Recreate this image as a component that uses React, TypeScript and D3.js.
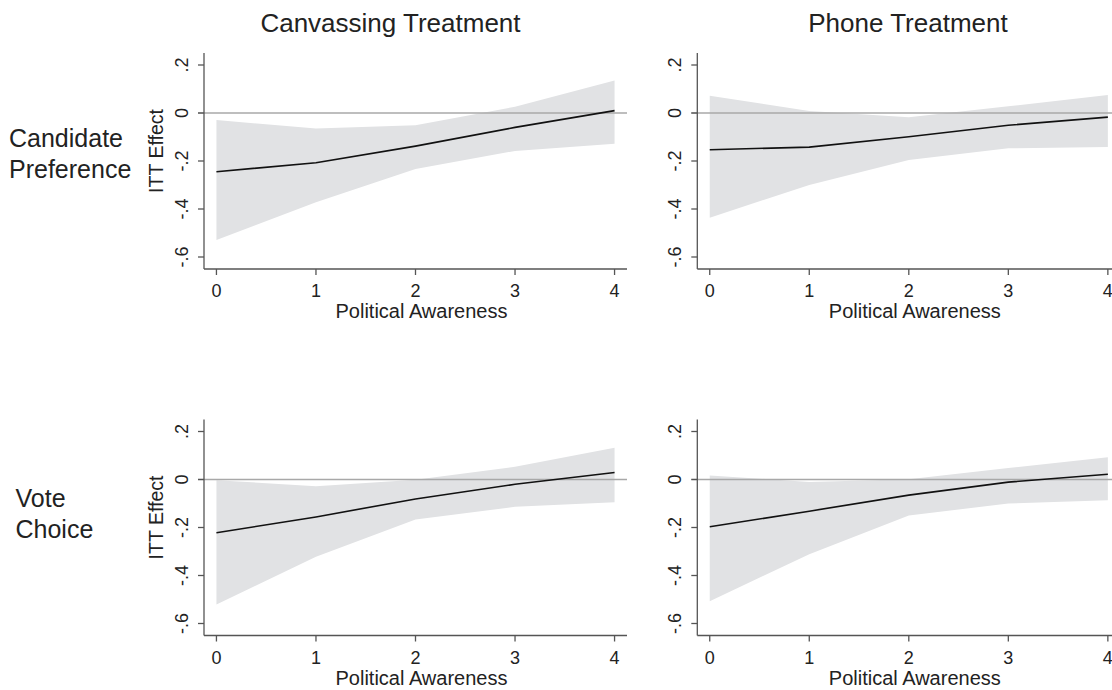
import React, { useEffect, useRef } from 'react';
import * as d3 from 'd3';

// political awareness levels on the x axis
const awareness = [0, 1, 2, 3, 4];

const columnTitles = ['Canvassing Treatment', 'Phone Treatment'];
const rowTitles = [['Candidate', 'Preference'], ['Vote', 'Choice']];

const yTicks = [0.2, 0, -0.2, -0.4, -0.6];
const yTickLabels = ['.2', '0', '-.2', '-.4', '-.6'];

// ITT estimates and 95% band
const canvassPrefEst = [-0.245, -0.207, -0.138, -0.06, 0.01];
const canvassPrefLo = [-0.529, -0.372, -0.233, -0.158, -0.128];
const canvassPrefHi = [-0.029, -0.065, -0.051, 0.026, 0.135];

const phonePrefEst = [-0.153, -0.142, -0.099, -0.051, -0.017];
const phonePrefLo = [-0.436, -0.3, -0.196, -0.147, -0.142];
const phonePrefHi = [0.072, 0.008, -0.018, 0.028, 0.075];

const canvassVoteEst = [-0.222, -0.156, -0.081, -0.02, 0.029];
const canvassVoteLo = [-0.521, -0.322, -0.167, -0.114, -0.095];
const canvassVoteHi = [-0.003, -0.028, -0.001, 0.053, 0.132];

const phoneVoteEst = [-0.197, -0.132, -0.065, -0.011, 0.022];
const phoneVoteLo = [-0.507, -0.311, -0.15, -0.1, -0.086];
const phoneVoteHi = [0.017, -0.01, 0.001, 0.048, 0.093];

const panels = [
	{ row: 0, col: 0, est: canvassPrefEst, lo: canvassPrefLo, hi: canvassPrefHi, yTitle: true },
	{ row: 0, col: 1, est: phonePrefEst, lo: phonePrefLo, hi: phonePrefHi, yTitle: false },
	{ row: 1, col: 0, est: canvassVoteEst, lo: canvassVoteLo, hi: canvassVoteHi, yTitle: true },
	{ row: 1, col: 1, est: phoneVoteEst, lo: phoneVoteLo, hi: phoneVoteHi, yTitle: false },
];

const W = 1112;
const H = 690;
const FONT = 'Liberation Sans, Arial, Helvetica, sans-serif';
const colLeft = [204, 697.3];
const colTitleX = [390.5, 908];
const rowBottom = [269, 635.5];
const rowTitleX = [9, 15.5];
const rowTitleY = [146.7, 506.7];
const plotW = 423;
const plotH = 216;
const axisColor = '#555';

const draw = (svgEl) => {
	const svg = d3.select(svgEl);
	svg.selectAll('*').remove();

	columnTitles.forEach((t, i) => {
		svg.append('text').attr('x', colTitleX[i]).attr('y', 32)
			.attr('text-anchor', 'middle')
			.attr('font-size', 26)
			.attr('fill', '#222')
			.text(t);
	});

	rowTitles.forEach((lines, i) => {
		lines.forEach((l, j) => {
			svg.append('text').attr('x', rowTitleX[i]).attr('y', rowTitleY[i] + j * 31.3)
				.attr('font-size', 25)
				.attr('fill', '#222')
				.text(l);
		});
	});

	panels.forEach((p) => {
		const x0 = colLeft[p.col];
		const yb = rowBottom[p.row];
		const x = d3.scaleLinear().domain([-0.125, 4.125]).range([x0, x0 + plotW]);
		const y = d3.scaleLinear().domain([-0.65, 0.25]).range([yb, yb - plotH]);
		const g = svg.append('g');
		const pts = awareness.map((a, i) => ({ a, est: p.est[i], lo: p.lo[i], hi: p.hi[i] }));

		const band = d3.area().x((d) => x(d.a))
			.y0((d) => y(d.lo))
			.y1((d) => y(d.hi));
		g.append('path').datum(pts)
			.attr('d', band)
			.attr('fill', '#e1e2e4');

		g.append('line').attr('x1', x0 - 6).attr('x2', x0 + plotW)
			.attr('y1', y(0)).attr('y2', y(0))
			.attr('stroke', '#a8a8a8')
			.attr('stroke-width', 1.6);

		const line = d3.line().x((d) => x(d.a)).y((d) => y(d.est));
		g.append('path').datum(pts)
			.attr('d', line)
			.attr('fill', 'none')
			.attr('stroke', '#111')
			.attr('stroke-width', 1.6);

		// axes
		g.append('line').attr('x1', x0).attr('x2', x0)
			.attr('y1', yb).attr('y2', yb - plotH)
			.attr('stroke', axisColor)
			.attr('stroke-width', 1.3);
		g.append('line').attr('x1', x0).attr('x2', x0 + plotW)
			.attr('y1', yb).attr('y2', yb)
			.attr('stroke', axisColor)
			.attr('stroke-width', 1.3);

		yTicks.forEach((t, i) => {
			g.append('line').attr('x1', x0 - 6).attr('x2', x0)
				.attr('y1', y(t)).attr('y2', y(t))
				.attr('stroke', axisColor)
				.attr('stroke-width', 1.3);
			g.append('text').attr('transform', `translate(${ x0 - 16 },${ y(t) }) rotate(-90)`)
				.attr('text-anchor', 'middle')
				.attr('font-size', 18)
				.attr('fill', '#222')
				.text(yTickLabels[i]);
		});

		awareness.forEach((a) => {
			g.append('line').attr('x1', x(a)).attr('x2', x(a))
				.attr('y1', yb).attr('y2', yb + 6)
				.attr('stroke', axisColor)
				.attr('stroke-width', 1.3);
			g.append('text').attr('x', x(a)).attr('y', yb + 28)
				.attr('text-anchor', 'middle')
				.attr('font-size', 18)
				.attr('fill', '#222')
				.text(a);
		});

		g.append('text').attr('x', x(2) + 6).attr('y', yb + 49)
			.attr('text-anchor', 'middle')
			.attr('font-size', 20)
			.attr('fill', '#222')
			.text('Political Awareness');

		if (p.yTitle) {
			g.append('text').attr('transform', `translate(${ x0 - 41 },${ y(-0.2) - 10 }) rotate(-90)`)
				.attr('text-anchor', 'middle')
				.attr('font-size', 19.5)
				.attr('fill', '#222')
				.text('ITT Effect');
		}
	});
};

const App = () => {
	const ref = useRef(null);

	useEffect(() => draw(ref.current), []);

	return (
		<svg ref={ ref } width={ W } height={ H } fontFamily={ FONT }
			style={ { position: 'absolute', left: 0, top: 0, background: '#fff' } }/>
	);
};

export default App;
